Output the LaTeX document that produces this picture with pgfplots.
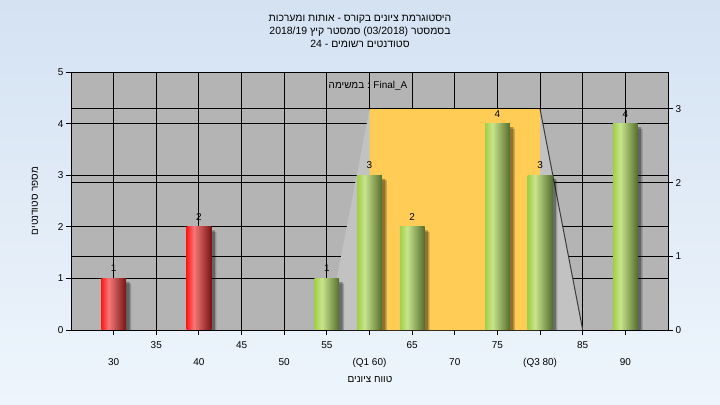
\documentclass[border=0pt]{standalone}
\usepackage{pgfplots}
\pgfplotsset{compat=1.18}
\usepackage{fontspec}
\setmainfont{Liberation Sans}
\newfontfamily\hebfont[Script=Hebrew]{Liberation Sans}
\TeXXeTstate=1

\definecolor{bgtop}{RGB}{212,226,242}
\definecolor{bgbot}{RGB}{238,245,252}
\definecolor{plotgray}{RGB}{180,180,180}
\definecolor{lightgray2}{RGB}{194,194,194}
\definecolor{boxyellow}{RGB}{255,205,85}
\definecolor{linegray}{RGB}{60,60,60}
\definecolor{rL}{RGB}{255,25,25}
\definecolor{rH}{RGB}{245,120,120}
\definecolor{rD}{RGB}{120,20,20}
\definecolor{gL}{RGB}{160,208,70}
\definecolor{gH}{RGB}{200,228,140}
\definecolor{gD}{RGB}{85,110,45}

\pgfdeclarehorizontalshading{redbar}{100bp}{color(0bp)=(rL); color(25bp)=(rL); color(40bp)=(rH); color(75bp)=(rD); color(100bp)=(rD)}
\pgfdeclarehorizontalshading{greenbar}{100bp}{color(0bp)=(gL); color(25bp)=(gL); color(40bp)=(gH); color(75bp)=(gD); color(100bp)=(gD)}

\pgfplotsset{
  common/.style={
    at={(71bp,75bp)}, anchor=south west, scale only axis,
    width=597bp, height=258bp,
    xmin=25, xmax=95,
    axis line style={black, line width=0.9bp},
    tick style={black, line width=0.9bp},
    grid style={black, line width=0.9bp},
    tick align=outside, major tick length=5bp,
    /pgf/number format/assume math mode=true,
    ticklabel style={font=\fontsize{10}{12}\selectfont},
  },
  barbase/.style={ybar, bar width=2.9, draw=none, shade,
    nodes near coords,
    nodes near coords style={text=black, font=\fontsize{10}{12}\selectfont, anchor=south, yshift=3bp}},
  redb/.style={barbase, shading=redbar},
  greenb/.style={barbase, shading=greenbar},
  shad/.style={ybar, bar width=2.9, bar shift=4bp, fill=black, draw=none},
}

\begin{document}
\begin{tikzpicture}
\shade[top color=bgtop, bottom color=bgbot] (0,0) rectangle (720bp,405bp);
\useasboundingbox (0,0) rectangle (720bp,405bp);

% right axis (drawn first, carries the background)
\begin{axis}[common,
  ymin=0, ymax=3.5,
  axis x line=none, axis y line*=right,
  ytick={0,1,2,3}, ymajorgrids,
  axis background/.style={fill=plotgray},
  yticklabel style={xshift=-1bp},
]
\addplot[draw=none] coordinates {(25,0)};
\end{axis}

% left axis with data
\begin{axis}[common,
  ymin=0, ymax=5, clip=false,
  xtick={30,35,...,90}, ytick={0,1,2,3,4,5},
  xtick pos=lower, ytick pos=left,
  xmajorgrids, ymajorgrids,
  xticklabels={{\strut\\30},{\strut 35},{\strut\\40},{\strut 45},{\strut\\50},{\strut 55},{\strut\\(Q1 60)},{\strut 65},{\strut\\70},{\strut 75},{\strut\\(Q3 80)},{\strut 85},{\strut\\90}},
  xticklabel style={align=center, font=\fontsize{10}{17}\selectfont, yshift=2bp},
  yticklabel style={xshift=1bp},
]
\addplot[fill=lightgray2, draw=none] coordinates {(55,0) (60,4.28) (80,4.28) (85,0)} \closedcycle;
\addplot[fill=boxyellow, draw=none] coordinates {(60,0) (60,4.28) (80,4.28) (80,0)} \closedcycle;
\addplot[draw=linegray, line width=1bp] coordinates {(80,4.28) (85,0)};

% shadows
\addplot[shad, opacity=0.2, bar shift=5bp]
  coordinates {(30,0.9) (40,1.9) (55,0.9) (60,2.9) (65,1.9) (75,3.9) (80,2.9) (90,3.9)};
\addplot[shad, opacity=0.3, bar shift=3.5bp]
  coordinates {(30,0.93) (40,1.93) (55,0.93) (60,2.93) (65,1.93) (75,3.93) (80,2.93) (90,3.93)};

\addplot[redb] coordinates {(30,1)};
\addplot[redb] coordinates {(40,2)};
\addplot[greenb] coordinates {(55,1)};
\addplot[greenb] coordinates {(60,3)};
\addplot[greenb] coordinates {(65,2)};
\addplot[greenb] coordinates {(75,4)};
\addplot[greenb] coordinates {(80,3)};
\addplot[greenb] coordinates {(90,4)};
\end{axis}

\node[align=center, font=\fontsize{10.5}{13}\selectfont\hebfont] at (360bp,374bp)
  {\beginR היסטוגרמת ציונים בקורס - אותות ומערכות\endR\\
   \beginR בסמסטר \beginL(03/2018)\endL{}  סמסטר קיץ \beginL2018/19\endL\endR\\
   \beginR סטודנטים רשומים - \beginL24\endL\endR};
\node[font=\fontsize{10}{12}\selectfont] at (368bp,319bp)
  {{\hebfont\beginR במשימה\endR} : Final\_A};
\node[font=\fontsize{10}{12}\selectfont\hebfont] at (370bp,25bp) {\beginR טווח ציונים\endR};
\node[rotate=90, font=\fontsize{10}{12}\selectfont\hebfont] at (35bp,204bp) {\beginR מספר סטודנטים\endR};
\end{tikzpicture}
\end{document}
